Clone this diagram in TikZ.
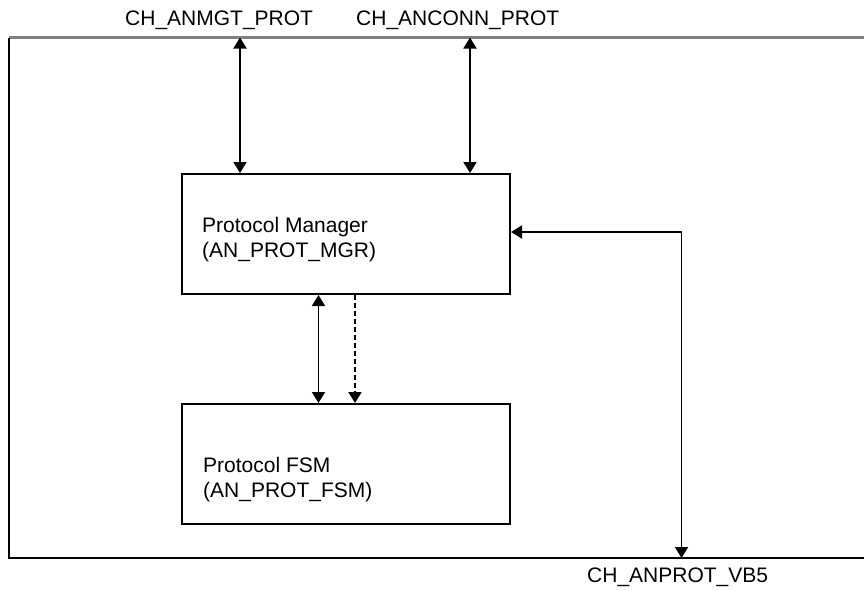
\documentclass[tikz,border=0pt]{standalone}
\usepackage{fontspec}
\setmainfont{Liberation Sans}
\usetikzlibrary{arrows.meta}
\begin{document}
\begin{tikzpicture}[x=1pt,y=-1pt,
  lbl/.style={inner sep=0pt,anchor=base west,font=\fontsize{21}{25}\selectfont},
  blk/.style={draw=black,line width=2pt,minimum width=328pt,minimum height=120pt,inner sep=0pt},
  tip/.style={},
  biconn/.style={line width=1.9pt,{Triangle[width=13pt,length=11pt]}-{Triangle[width=13pt,length=11pt]}},
  dconn/.style={line width=2pt,dash pattern=on 4.5pt off 3.5pt,-{Triangle[width=13pt,length=11pt]}}]
\useasboundingbox (0,0) rectangle (864,590);
% frame
\coordinate (ftl) at (9,37.5);
\coordinate (ftr) at (864,37.5);
\coordinate (fbl) at (9,558);
\coordinate (fbr) at (864,558);
\draw[line width=2.2pt,draw=black!50] (ftl) -- (ftr);
\draw[line width=2pt,draw=black] (ftl) -- (fbl) -- (fbr);
% blocks
\node[blk] (pm) at (346,234) {};
\node[blk] (fsm) at (346,464) {};
% labels
\node[lbl] (pm1) at (202,232) {Protocol Manager};
\node[lbl] (pm2) at (202,257) {(AN\_PROT\_MGR)};
\node[lbl] (fsm1) at (203,472) {Protocol FSM};
\node[lbl] (fsm2) at (203,497) {(AN\_PROT\_FSM)};
\node[lbl] (ch1) at (125,25) {CH\_ANMGT\_PROT};
\node[lbl] (ch2) at (356,25) {CH\_ANCONN\_PROT};
\node[lbl] (ch3) at (587,582) {CH\_ANPROT\_VB5};
% connectors
\coordinate (t1) at (240,37.5);
\coordinate (t2) at (470,37.5);
\draw[biconn] (t1) -- (t1 |- pm.north);
\draw[biconn] (t2) -- (t2 |- pm.north);
\coordinate (m1) at (318.5,0);
\coordinate (m2) at (355,0);
\draw[biconn] (m1 |- pm.south) -- (m1 |- fsm.north);
\draw[dconn] (m2 |- pm.south) -- (m2 |- fsm.north);
\coordinate (r1) at (681.5,232);
\coordinate (r2) at (681.5,558);
\draw[biconn] (pm.east |- r1) -- (r1) -- (r2);
\end{tikzpicture}
\end{document}
